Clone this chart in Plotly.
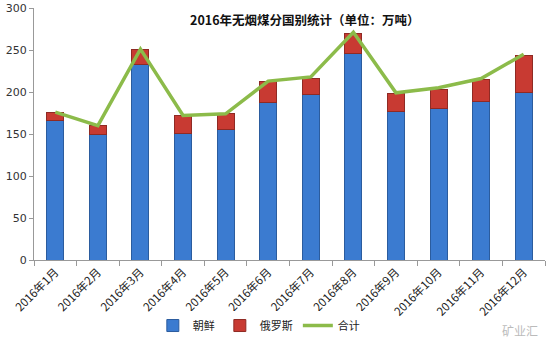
import plotly.graph_objects as go

months = ["2016年1月", "2016年2月", "2016年3月", "2016年4月", "2016年5月", "2016年6月",
          "2016年7月", "2016年8月", "2016年9月", "2016年10月", "2016年11月", "2016年12月"]
north_korea = [166, 150, 233, 151, 155, 188, 197, 246, 177, 180, 189, 199]
russia = [10, 10, 18, 21, 19, 24, 19, 24, 21, 23, 26, 45]
total = [176, 160, 251, 172, 174, 213, 218, 271, 199, 205, 216, 245]
y_ticks = [0, 50, 100, 150, 200, 250, 300]

fig = go.Figure()
fig.add_trace(go.Bar(x=months, y=north_korea, name="朝鲜",
                     marker=dict(color="#3b7bd0", line=dict(color="#2b5c9e", width=1))))
fig.add_trace(go.Bar(x=months, y=russia, name="俄罗斯",
                     marker=dict(color="#c83a32", line=dict(color="#8f2a24", width=1))))
fig.add_trace(go.Scatter(x=months, y=total, name="合计", mode="lines",
                         line=dict(color="#8cbb4a", width=3.5)))

fig.update_layout(
    width=553, height=356,
    barmode="stack", bargap=0.6,
    paper_bgcolor="white", plot_bgcolor="white",
    margin=dict(l=34, r=8, t=8, b=96),
    font=dict(family="Noto Sans CJK SC, DejaVu Sans", size=11, color="#333333"),
    showlegend=True,
    legend=dict(orientation="h", x=0.44, xanchor="center", y=-0.26, yanchor="middle",
                font=dict(size=11, color="#222222"), traceorder="normal"),
    annotations=[
        dict(text="<b>2016年无烟煤分国别统计（单位：万吨）</b>", xref="paper", yref="paper",
             x=0.53, y=1.0, xanchor="center", yanchor="top", showarrow=False,
             font=dict(size=12.5, color="#111111", family="Noto Sans CJK SC")),
        dict(text="矿业汇", xref="paper", yref="paper", x=0.99, y=-0.28,
             xanchor="right", yanchor="middle", showarrow=False,
             font=dict(size=12, color="#bbbbbb")),
    ],
)
fig.update_xaxes(type="category", showline=True, linecolor="#999999", linewidth=1,
                 ticks="outside", tickson="boundaries", ticklen=5, tickcolor="#999999",
                 tickangle=-45, showgrid=False, automargin=False,
                 tickfont=dict(size=11.5, color="#222222", family="Noto Sans CJK SC"))
fig.update_yaxes(range=[0, 300], tickvals=y_ticks, showline=True, linecolor="#999999",
                 linewidth=1, ticks="outside", ticklen=4, tickcolor="#999999",
                 showgrid=False, zeroline=False, automargin=False,
                 tickfont=dict(size=11, color="#333333", family="DejaVu Sans"))

fig.write_html("out.html", config={"displayModeBar": False},
               post_script="document.body.style.margin='0';")
